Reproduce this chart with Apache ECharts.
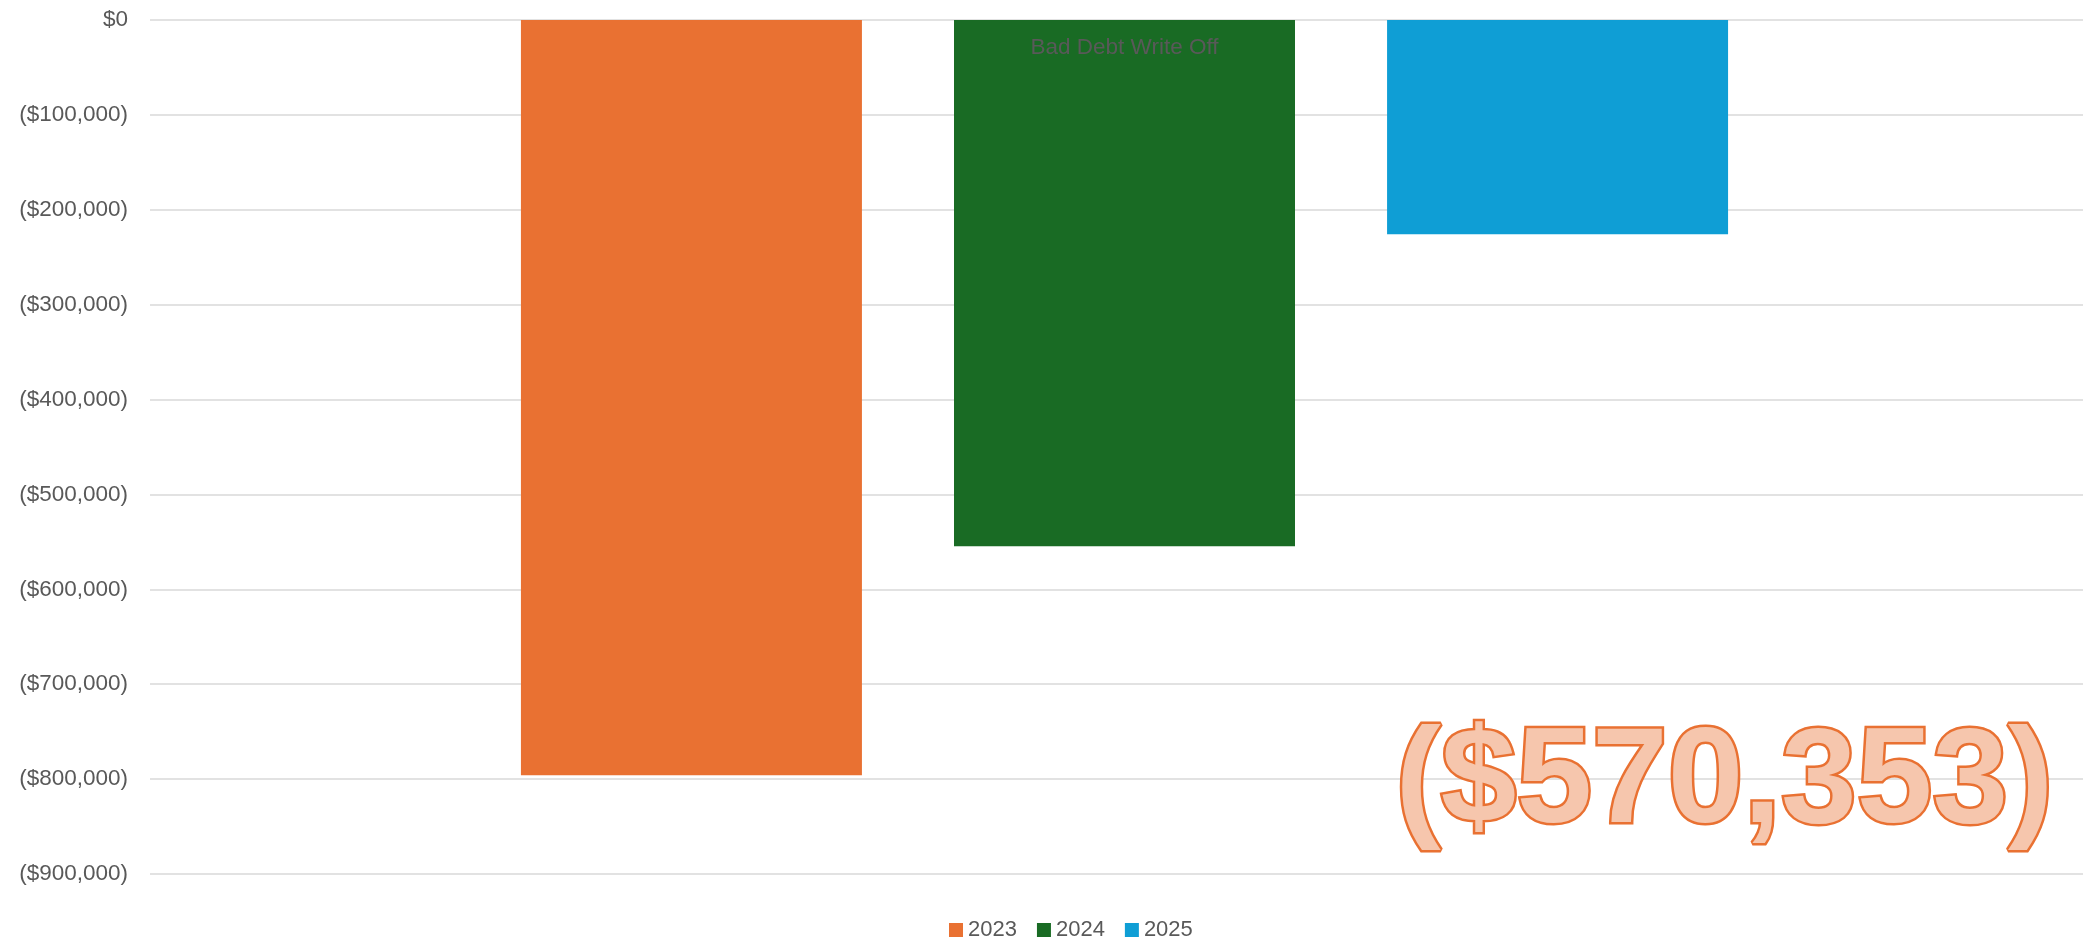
<!DOCTYPE html>
<html>
<head>
<meta charset="utf-8">
<title>Bad Debt Write Off</title>
<script src="https://cdn.jsdelivr.net/npm/echarts@6/dist/echarts.min.js"></script>
<style>
  html, body { margin: 0; padding: 0; background: #fff; }
  #chart { width: 2083px; height: 939px; }
</style>
</head>
<body>
<div id="chart"></div>
<script>
// data
var categories = ['Bad Debt Write Off']
var years = ['2023', '2024', '2025']
var values2023 = [-795900]
var values2024 = [-554500]
var values2025 = [-225700]
var yMin = -900000
var yMax = 0
var yStep = 100000
var totalLabel = '($570,353)'

var colors = ['#E97132', '#196B24', '#0F9ED5']
var seriesValues = [values2023, values2024, values2025]

function money (v) {
  var s = '$' + Math.abs(v).toLocaleString('en-US')
  return v < 0 ? '(' + s + ')' : s
}

var myChart = echarts.init(document.getElementById('chart'))

myChart.setOption({
  animation: false,
  textStyle: { fontFamily: 'Liberation Sans, Arial, sans-serif' },
  color: colors,
  // grid 0 carries the value axis + gridlines, grid 1 the bars (plot area runs past the right edge)
  grid: [
    { left: 150, top: 20, height: 854, right: 0 },
    { left: 166, top: 20, height: 854, right: 0 }
  ],
  legend: {
    data: years,
    left: 944,
    top: 914,
    icon: 'rect',
    itemWidth: 14,
    itemHeight: 14,
    itemGap: 20,
    textStyle: {
      color: '#595959',
      fontSize: 22
    }
  },
  xAxis: [
    {
      type: 'category',
      gridIndex: 0,
      data: categories,
      show: false
    },
    {
      type: 'category',
      gridIndex: 1,
      data: categories,
      position: 'top',
      z: 10,
      axisLine: { show: false },
      axisTick: { show: false },
      axisLabel: {
        inside: true,
        margin: 16,
        color: '#595959',
        fontSize: 22.5
      }
    }
  ],
  yAxis: [
    {
      type: 'value',
      gridIndex: 0,
      min: yMin,
      max: yMax,
      interval: yStep,
      axisLine: { show: false },
      axisTick: { show: false },
      axisLabel: {
        margin: 22,
        color: '#595959',
        fontSize: 22.5,
        formatter: money
      },
      splitLine: {
        lineStyle: { color: '#D9D9D9', width: 1.5 }
      }
    },
    {
      type: 'value',
      gridIndex: 1,
      min: yMin,
      max: yMax,
      interval: yStep,
      show: false,
      splitLine: { show: false }
    }
  ],
  series: years.map(function (y, i) {
    return {
      name: y,
      type: 'bar',
      xAxisIndex: 1,
      yAxisIndex: 1,
      data: seriesValues[i],
      barWidth: 341,
      barGap: '27%',
      itemStyle: { color: colors[i] }
    }
  }),
  graphic: [{
    type: 'text',
    z: 100,
    left: 1393,
    top: 714,
    style: {
      text: totalLabel,
      fontFamily: 'Liberation Sans, Arial, sans-serif',
      fontWeight: 'bold',
      fontSize: 136,
      fill: '#F6C6AD',
      stroke: '#E97132',
      lineWidth: 5
    }
  }]
})
</script>
</body>
</html>
